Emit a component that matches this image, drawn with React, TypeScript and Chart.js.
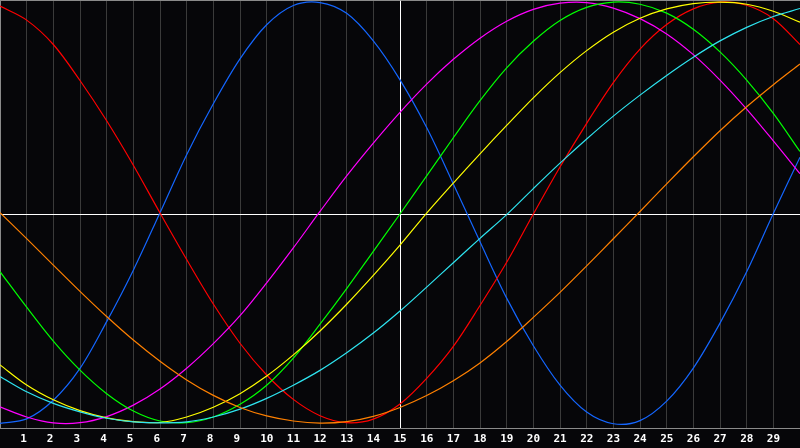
import React, { useEffect, useRef } from "react";
import { Chart, registerables } from "chart.js";

Chart.register(...registerables);

// x positions (0..30), labels shown for 1..29
const xValues = [0, 1, 2, 3, 4, 5, 6, 7, 8, 9, 10, 11, 12, 13, 14, 15, 16, 17, 18, 19, 20, 21, 22, 23, 24, 25, 26, 27, 28, 29, 30];
const xTickLabels = ["", "1", "2", "3", "4", "5", "6", "7", "8", "9", "10", "11", "12", "13", "14", "15", "16", "17", "18", "19", "20", "21", "22", "23", "24", "25", "26", "27", "28", "29", ""];
const yGridValues = [-1.01, 0, 1.01];

const redSeries = [0.981, 0.915, 0.8, 0.63, 0.44, 0.23, 0.005, -0.215, -0.425, -0.61, -0.76, -0.875, -0.952, -0.985, -0.968, -0.897, -0.776, -0.625, -0.432, -0.228, 0.0, 0.222, 0.428, 0.62, 0.778, 0.894, 0.968, 1.0, 0.985, 0.922, 0.8];
const blueSeries = [-0.988, -0.967, -0.879, -0.729, -0.508, -0.265, 0.006, 0.28, 0.52, 0.732, 0.893, 0.984, 0.998, 0.947, 0.817, 0.633, 0.408, 0.142, -0.131, -0.397, -0.622, -0.808, -0.935, -0.99, -0.975, -0.883, -0.727, -0.515, -0.273, 0.002, 0.268];
const magentaSeries = [-0.91, -0.958, -0.986, -0.985, -0.956, -0.902, -0.826, -0.728, -0.612, -0.48, -0.325, -0.16, 0.012, 0.18, 0.335, 0.48, 0.613, 0.73, 0.83, 0.91, 0.966, 0.995, 0.998, 0.972, 0.922, 0.85, 0.752, 0.632, 0.495, 0.345, 0.19];
const greenSeries = [-0.272, -0.44, -0.6, -0.737, -0.848, -0.93, -0.977, -0.985, -0.958, -0.898, -0.808, -0.68, -0.52, -0.352, -0.176, 0.0, 0.18, 0.36, 0.535, 0.69, 0.815, 0.913, 0.975, 1.0, 0.99, 0.948, 0.872, 0.765, 0.632, 0.475, 0.295];
const yellowSeries = [-0.712, -0.807, -0.877, -0.928, -0.962, -0.98, -0.984, -0.958, -0.912, -0.848, -0.765, -0.665, -0.552, -0.426, -0.29, -0.147, 0.004, 0.146, 0.284, 0.418, 0.548, 0.667, 0.771, 0.858, 0.924, 0.968, 0.993, 1.0, 0.99, 0.957, 0.905];
const cyanSeries = [-0.767, -0.839, -0.894, -0.934, -0.964, -0.981, -0.986, -0.981, -0.958, -0.921, -0.87, -0.808, -0.738, -0.655, -0.562, -0.458, -0.345, -0.23, -0.115, -0.003, 0.12, 0.24, 0.354, 0.462, 0.561, 0.654, 0.74, 0.817, 0.881, 0.932, 0.97];
const orangeSeries = [0.006, -0.116, -0.241, -0.365, -0.484, -0.595, -0.695, -0.783, -0.856, -0.913, -0.953, -0.977, -0.987, -0.98, -0.955, -0.913, -0.857, -0.787, -0.703, -0.602, -0.488, -0.37, -0.245, -0.117, 0.012, 0.142, 0.27, 0.393, 0.506, 0.61, 0.708];

const seriesList = [
  { name: "orange", data: orangeSeries, color: "#ff8000" },
  { name: "cyan", data: cyanSeries, color: "#2ee4f0" },
  { name: "yellow", data: yellowSeries, color: "#ffff00" },
  { name: "green", data: greenSeries, color: "#00ff00" },
  { name: "magenta", data: magentaSeries, color: "#ff00ff" },
  { name: "red", data: redSeries, color: "#ff0000" },
  { name: "blue", data: blueSeries, color: "#1466ff" },
];

export default function App() {
  const ref = useRef<HTMLCanvasElement | null>(null);

  useEffect(() => {
    document.body.style.margin = "0";
    document.body.style.background = "#060609";
    const canvas = ref.current;
    if (!canvas) return;
    const chart = new Chart(canvas, {
      type: "line",
      data: {
        datasets: seriesList.map((s) => ({
          label: s.name,
          data: xValues.map((x, i) => ({ x, y: s.data[i] })),
          borderColor: s.color,
          backgroundColor: s.color,
          borderWidth: 1.2,
          pointRadius: 0,
          pointHoverRadius: 0,
          pointHitRadius: 0,
          tension: 0.33,
          fill: false,
        })),
      },
      options: {
        animation: false,
        responsive: false,
        maintainAspectRatio: false,
        events: [],
        layout: { padding: 0, autoPadding: false },
        plugins: { legend: { display: false }, tooltip: { enabled: false } },
        scales: {
          x: {
            type: "linear",
            min: 0,
            max: 30,
            afterBuildTicks: (s: any) => {
              s.ticks = xValues.map((v) => ({ value: v }));
            },
            afterFit: (s: any) => {
              s.height = 20;
              s.paddingLeft = 0;
              s.paddingRight = 0;
            },
            grid: {
              color: (ctx: any) => (ctx.tick && ctx.tick.value === 15 ? "#ffffff" : "#3a3a3a"),
              drawTicks: false,
              lineWidth: 1,
            },
            border: { display: true, color: "#8a8a8a" },
            ticks: {
              autoSkip: false,
              maxRotation: 0,
              minRotation: 0,
              align: "start",
              labelOffset: -6.5,
              padding: 5,
              color: "#ffffff",
              font: { family: "'DejaVu Sans Mono', monospace", size: 11, weight: "bold" },
              callback: (value: any) => xTickLabels[Math.round(Number(value))] ?? "",
            },
          },
          y: {
            type: "linear",
            min: -1.01,
            max: 1.01,
            afterBuildTicks: (s: any) => {
              s.ticks = yGridValues.map((v) => ({ value: v }));
            },
            afterFit: (s: any) => {
              s.width = 0;
            },
            ticks: { display: false },
            grid: {
              drawTicks: false,
              color: (ctx: any) => (ctx.tick && ctx.tick.value === 0 ? "#ffffff" : "#8a8a8a"),
              lineWidth: 1,
            },
            border: { display: true, color: "#8a8a8a" },
          },
        },
      } as any,
    });
    return () => chart.destroy();
  }, []);

  return (
    <div style={{ width: 800, height: 448, background: "#060609" }}>
      <canvas ref={ref} width={800} height={448} style={{ display: "block" }} />
    </div>
  );
}
